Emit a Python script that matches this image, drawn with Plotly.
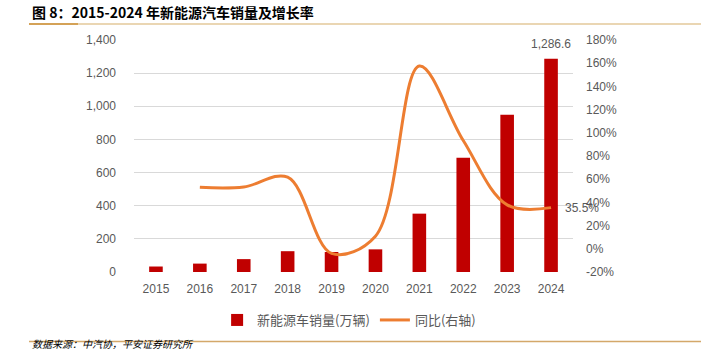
import plotly.graph_objects as go

years = ["2015", "2016", "2017", "2018", "2019", "2020", "2021", "2022", "2023", "2024"]
sales = [33.1, 50.7, 77.7, 125.6, 120.6, 136.7, 352.1, 688.7, 949.5, 1286.6]
growth = [None, 53.0, 53.3, 61.7, -4.0, 10.9, 157.5, 93.4, 37.9, 35.5]
left_ticks = [0, 200, 400, 600, 800, 1000, 1200, 1400]
right_ticks = [-20, 0, 20, 40, 60, 80, 100, 120, 140, 160, 180]

W, H = 701, 354
L, R, T, B = 134, 573, 40, 272
pw, ph = R - L, B - T

def px(x):
    return (x - L) / pw

def py(y):
    return (B - y) / ph

grey = "#595959"
font_main = "Liberation Sans, Arial, sans-serif"
font_cjk = "Noto Sans CJK SC, sans-serif"

last = len(years) - 1

fig = go.Figure()
fig.add_trace(go.Bar(
    x=years, y=sales, name="新能源车销量(万辆)",
    marker=dict(color="#C00000", line=dict(width=0)),
    width=0.31,
))
fig.add_trace(go.Scatter(
    x=years, y=growth, name="同比(右轴)", yaxis="y2",
    mode="lines", line=dict(color="#ED7D31", width=3, shape="spline", smoothing=1.0),
    connectgaps=False, cliponaxis=False,
))

fig.update_layout(
    width=W, height=H,
    margin=dict(l=L, r=W - R, t=T, b=H - B, pad=0),
    paper_bgcolor="white", plot_bgcolor="white",
    showlegend=True,
    legend=dict(orientation="h", x=0.49, xanchor="center", y=py(320), yanchor="middle",
                font=dict(color=grey, size=13, family=font_cjk),
                itemwidth=30, traceorder="normal"),
    xaxis=dict(type="category", range=[-0.5, 9.5], showgrid=False, zeroline=False,
               showline=False, ticks="", tickfont=dict(color=grey, size=12, family=font_main),
               ticklabelstandoff=8),
    yaxis=dict(range=[0, 1400], tickvals=left_ticks, tickformat=",d", showgrid=True,
               gridcolor="#d9d9d9", gridwidth=1, zeroline=False, showline=False, ticks="",
               tickfont=dict(color=grey, size=12, family=font_main), ticklabelstandoff=17),
    yaxis2=dict(range=[-20, 180], tickvals=right_ticks,
                ticktext=[f"{v}%" for v in right_ticks], overlaying="y",
                side="right", showgrid=False, zeroline=False, showline=False, ticks="",
                tickfont=dict(color=grey, size=12, family=font_main), ticklabelstandoff=12),
    shapes=[
        dict(type="line", xref="paper", yref="paper", x0=px(29), x1=px(78), y0=py(24), y1=py(24),
             line=dict(color="#d4a257", width=2)),
        dict(type="line", xref="paper", yref="paper", x0=px(78), x1=px(701), y0=py(24), y1=py(24),
             line=dict(color="#ead6b3", width=2)),
        dict(type="line", xref="paper", yref="paper", x0=px(29), x1=px(701), y0=py(341.5), y1=py(341.5),
             line=dict(color="#d4a86a", width=1.5)),
    ],
    annotations=[
        dict(text="<b>图 8：2015-2024 年新能源汽车销量及增长率</b>", xref="paper", yref="paper",
             x=px(30), y=py(12), xanchor="left", yanchor="middle", showarrow=False,
             font=dict(size=14, color="#000000", family=font_cjk)),
        dict(text="<i>数据来源：中汽协，平安证券研究所</i>", xref="paper", yref="paper",
             x=px(30), y=0, yshift=-(H - B) + 1, xanchor="left", yanchor="bottom", showarrow=False,
             font=dict(size=10, color="#000000", family=font_cjk)),
        dict(text=f"{sales[-1]:,.1f}", x=last, y=sales[-1], xref="x", yref="y",
             xanchor="center", yanchor="bottom", yshift=6, showarrow=False,
             font=dict(size=12, color=grey, family=font_main)),
        dict(text=f"{growth[-1]:.1f}%", x=last, y=growth[-1], xref="x", yref="y2",
             xanchor="left", yanchor="middle", xshift=12, showarrow=False,
             font=dict(size=12, color=grey, family=font_main)),
    ],
)

fig.write_html("out.html")
